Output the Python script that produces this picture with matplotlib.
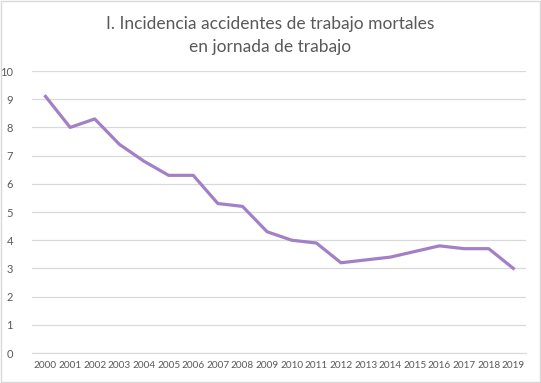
import matplotlib
matplotlib.use("Agg")
import matplotlib.pyplot as plt
from matplotlib.patches import Rectangle

years = [str(y) for y in range(2000, 2020)]
incidencia = [9.1, 8.0, 8.3, 7.4, 6.8, 6.3, 6.3, 5.3, 5.2, 4.3,
              4.0, 3.9, 3.2, 3.3, 3.4, 3.6, 3.8, 3.7, 3.7, 3.0]
y_ticks = list(range(0, 11))

plt.rcParams['font.family'] = ['Lato', 'DejaVu Sans']

fig = plt.figure(figsize=(5.41, 3.83), dpi=100)
ax = fig.add_axes([0.06, 0.0783, 0.913, 0.7363])

x = list(range(len(years)))
ax.plot(x, incidencia, color='#a380c6', linewidth=2.3, solid_joinstyle='round')

ax.set_xlim(-0.53, len(years) - 0.47)
ax.set_ylim(0, 10)
ax.set_yticks(y_ticks)
ax.set_xticks(x)
ax.set_xticklabels(years)
ax.grid(axis='y', color='#d9d9d9', linewidth=0.9)
ax.set_axisbelow(True)
for s in ['top', 'right', 'left']:
    ax.spines[s].set_visible(False)
ax.spines['bottom'].set_color('#d9d9d9')
ax.tick_params(length=0, labelsize=8, colors='#595959', pad=6)
ax.tick_params(axis='y', pad=14)
for lbl in ax.get_xticklabels():
    lbl.set_fontsize(7.2)

fig.text(0.5, 0.908, 'I. Incidencia accidentes de trabajo mortales\nen jornada de trabajo',
         ha='center', va='center', fontsize=12.5, color='#595959', linespacing=1.55)

fig.patches.append(Rectangle((0.002, 0.003), 0.996, 0.994, transform=fig.transFigure,
                             fill=False, edgecolor='#d9d9d9', linewidth=1))

fig.savefig('out.png', dpi=100)
